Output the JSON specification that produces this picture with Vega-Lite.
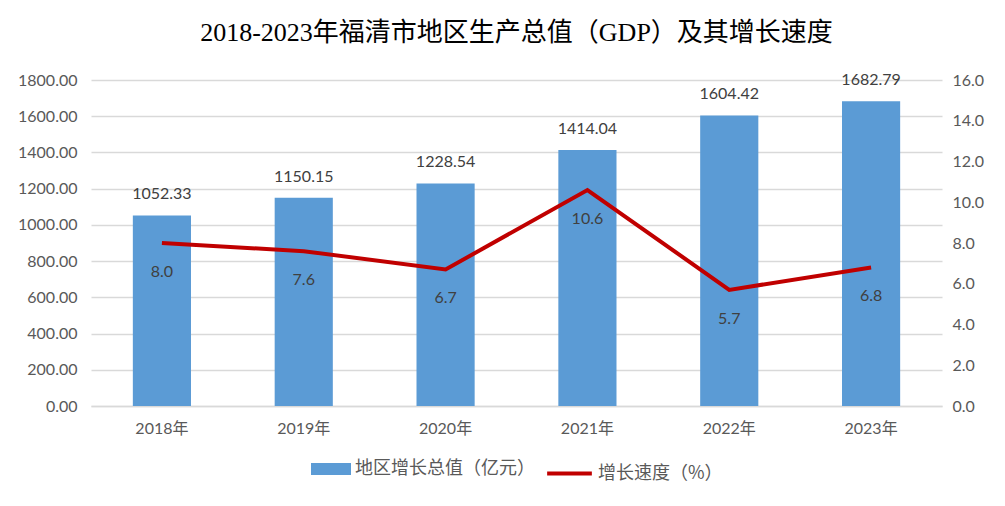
{
  "$schema": "https://vega.github.io/schema/vega-lite/v6.json",
  "width": 851,
  "height": 326,
  "autosize": {"type": "none"},
  "padding": {"left": 91, "top": 80, "right": 63, "bottom": 100},
  "background": "white",
  "title": {
    "text": "2018-2023年福清市地区生产总值（GDP）及其增长速度",
    "font": "Liberation Serif, Noto Sans CJK SC",
    "fontSize": 26,
    "fontWeight": "normal",
    "color": "#000000",
    "anchor": "middle",
    "offset": 26
  },
  "data": {
    "values": [
      {"year": "2018年", "gdp": 1052.33, "rate": 8.0, "s1": "地区增长总值（亿元）", "s2": "增长速度（%）"},
      {"year": "2019年", "gdp": 1150.15, "rate": 7.6, "s1": "地区增长总值（亿元）", "s2": "增长速度（%）"},
      {"year": "2020年", "gdp": 1228.54, "rate": 6.7, "s1": "地区增长总值（亿元）", "s2": "增长速度（%）"},
      {"year": "2021年", "gdp": 1414.04, "rate": 10.6, "s1": "地区增长总值（亿元）", "s2": "增长速度（%）"},
      {"year": "2022年", "gdp": 1604.42, "rate": 5.7, "s1": "地区增长总值（亿元）", "s2": "增长速度（%）"},
      {"year": "2023年", "gdp": 1682.79, "rate": 6.8, "s1": "地区增长总值（亿元）", "s2": "增长速度（%）"}
    ]
  },
  "encoding": {
    "x": {
      "field": "year",
      "type": "nominal",
      "sort": null,
      "scale": {"paddingInner": 0.59, "paddingOuter": 0.295},
      "axis": {
        "title": null,
        "labelAngle": 0,
        "ticks": false,
        "domainColor": "#d9d9d9",
        "domainWidth": 1.5,
        "labelPadding": 14,
        "labelFontSize": 16,
        "labelColor": "#595959",
        "labelFont": "Lato, Noto Sans CJK SC"
      }
    }
  },
  "layer": [
    {
      "encoding": {
        "y": {
          "field": "gdp",
          "type": "quantitative",
          "scale": {"domain": [0, 1800]},
          "axis": {
            "title": null,
            "values": [0, 200, 400, 600, 800, 1000, 1200, 1400, 1600, 1800],
            "format": ".2f",
            "ticks": false,
            "domain": false,
            "grid": true,
            "gridColor": "#d9d9d9",
            "gridWidth": 1.5,
            "labelPadding": 14,
            "labelFontSize": 16,
            "labelColor": "#595959",
            "labelFont": "Lato"
          }
        }
      },
      "layer": [
        {
          "mark": {"type": "bar"},
          "encoding": {
            "fill": {
              "field": "s1",
              "type": "nominal",
              "scale": {"range": ["#5b9bd5"]},
              "legend": {
                "title": null,
                "orient": "bottom",
                "symbolType": "M-1,-0.3H1V0.3H-1Z",
                "symbolSize": 1600,
                "labelFontSize": 18,
                "labelColor": "#595959",
                "labelFont": "Noto Sans CJK SC",
                "labelLimit": 400,
                "offset": 13,
                "symbolStrokeWidth": 0
              }
            }
          }
        },
        {
          "mark": {"type": "text", "baseline": "bottom", "dy": -13, "fontSize": 16, "color": "#404040", "font": "Lato"},
          "encoding": {
            "text": {"field": "gdp", "type": "quantitative", "format": ".2f"}
          }
        }
      ]
    },
    {
      "encoding": {
        "y": {
          "field": "rate",
          "type": "quantitative",
          "scale": {"domain": [0, 16]},
          "axis": {
            "title": null,
            "orient": "right",
            "values": [0, 2, 4, 6, 8, 10, 12, 14, 16],
            "format": ".1f",
            "ticks": false,
            "domain": false,
            "grid": false,
            "labelPadding": 10,
            "labelFontSize": 16,
            "labelColor": "#595959",
            "labelFont": "Lato"
          }
        }
      },
      "layer": [
        {
          "mark": {"type": "line", "strokeWidth": 4},
          "encoding": {
            "stroke": {
              "field": "s2",
              "type": "nominal",
              "scale": {"range": ["#c00000"]},
              "legend": {
                "title": null,
                "orient": "bottom",
                "symbolType": "stroke",
                "symbolSize": 2000,
                "symbolStrokeWidth": 4,
                "labelFontSize": 18,
                "labelColor": "#595959",
                "labelFont": "Noto Sans CJK SC",
                "labelLimit": 400,
                "offset": 13
              }
            }
          }
        },
        {
          "mark": {"type": "text", "baseline": "middle", "dy": 29, "fontSize": 16, "color": "#404040", "font": "Lato"},
          "encoding": {
            "text": {"field": "rate", "type": "quantitative", "format": ".1f"}
          }
        }
      ]
    }
  ],
  "resolve": {"scale": {"y": "independent", "fill": "independent", "stroke": "independent"}},
  "config": {
    "view": {"stroke": null},
    "legend": {"layout": {"bottom": {"anchor": "middle", "direction": "horizontal", "margin": 10}}}
  }
}
